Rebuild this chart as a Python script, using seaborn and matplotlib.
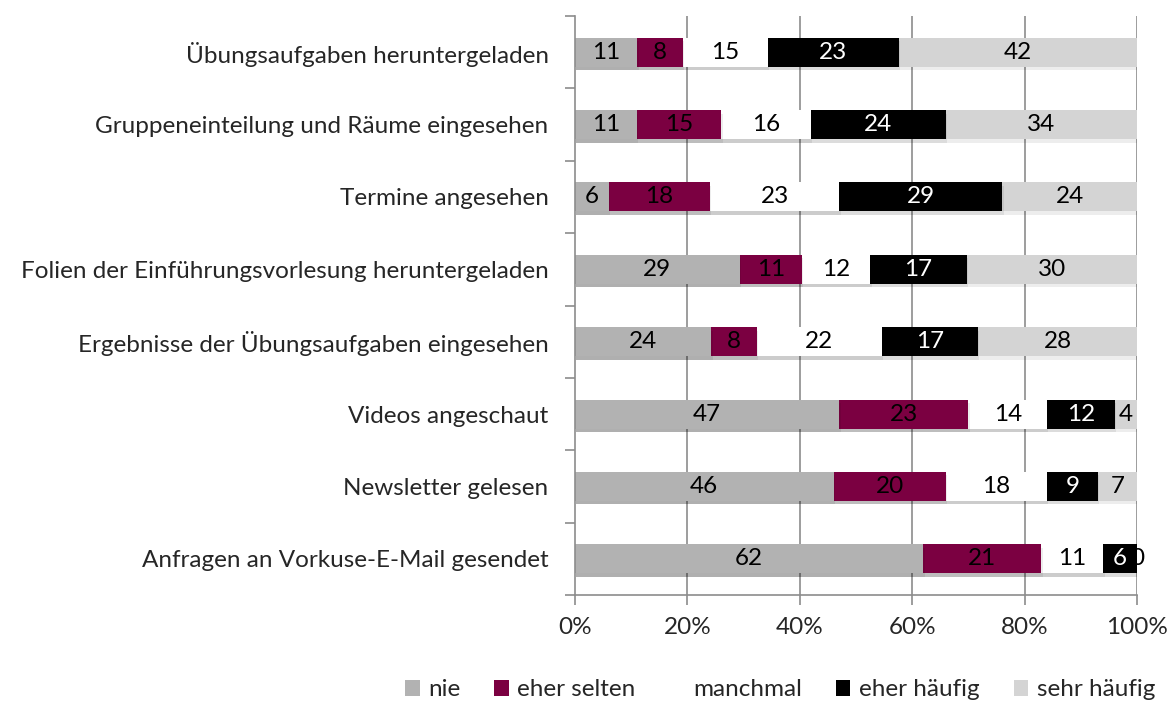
import numpy as np
import pandas as pd
import matplotlib
matplotlib.use("Agg")
import matplotlib.pyplot as plt
import matplotlib.patheffects as pe
from matplotlib.patches import Patch
import seaborn as sns

categories = [
    "Übungsaufgaben heruntergeladen",
    "Gruppeneinteilung und Räume eingesehen",
    "Termine angesehen",
    "Folien der Einführungsvorlesung heruntergeladen",
    "Ergebnisse der Übungsaufgaben eingesehen",
    "Videos angeschaut",
    "Newsletter gelesen",
    "Anfragen an Vorkuse-E-Mail gesendet",
]
series_names = ["nie", "eher selten", "manchmal", "eher häufig", "sehr häufig"]
nie = [11, 11, 6, 29, 24, 47, 46, 62]
eher_selten = [8, 15, 18, 11, 8, 23, 20, 21]
manchmal = [15, 16, 23, 12, 22, 14, 18, 11]
eher_haeufig = [23, 24, 29, 17, 17, 12, 9, 6]
sehr_haeufig = [42, 34, 24, 30, 28, 4, 7, 0]
tick_labels = ["0%", "20%", "40%", "60%", "80%", "100%"]

colors = ["#B2B2B2", "#7B0041", "#FFFFFF", "#000000", "#D4D4D4"]
text_colors = ["black", "black", "black", "white", "black"]

sns.set_style("white")
plt.rcParams["font.family"] = ["Lato", "DejaVu Sans"]
FS = 17.5

vals = np.array([nie, eher_selten, manchmal, eher_haeufig, sehr_haeufig], dtype=float)
pct = vals / vals.sum(axis=0) * 100
cum = np.cumsum(pct, axis=0)

fig = plt.figure(figsize=(11.68, 7.04), dpi=100)
ax = fig.add_axes([575 / 1168, 1 - 595 / 704, 562 / 1168, 579 / 704])

grid_c = "#8C8C8C"
for x in [20, 40, 60, 80, 100]:
    ax.axvline(x, color=grid_c, lw=1.2, zorder=0)

shadow = [pe.SimplePatchShadow(offset=(1, -2.5), shadow_rgbFace="#000000", alpha=0.07), pe.Normal()]

for i in reversed(range(5)):
    df = pd.DataFrame({"cat": categories, "val": cum[i]})
    sns.barplot(data=df, y="cat", x="val", orient="h", color=colors[i],
                saturation=1, width=0.4, ax=ax, linewidth=0, zorder=2)

for p in ax.patches:
    p.set_path_effects(shadow)

for j in range(len(categories)):
    left = 0.0
    for i in range(5):
        w = pct[i, j]
        center = left + w / 2
        z = 1.5 if vals[i, j] == 0 else 4
        ax.text(center, j, f"{int(vals[i, j])}", ha="center", va="center",
                fontsize=FS, color=text_colors[i], zorder=z)
        left += w

ax.set_xlim(0, 100)
ax.set_ylim(7.5, -0.5)
ax.set_xticks([0, 20, 40, 60, 80, 100])
ax.set_xticklabels(tick_labels, fontsize=FS)
ax.set_yticks(np.arange(-0.5, 8, 1), minor=False)
ax.set_yticklabels([])
ax.set_yticks(np.arange(8), minor=True)
ax.set_yticklabels(categories, minor=True, fontsize=FS)
ax.tick_params(axis="y", which="minor", length=0, pad=19)
ax.tick_params(axis="y", which="major", length=7, width=1.2, color=grid_c, direction="out", left=True)
ax.tick_params(axis="x", length=7, width=1.2, color=grid_c, direction="out", bottom=True, pad=9)
ax.set_xlabel("")
ax.set_ylabel("")
for s in ["top", "right"]:
    ax.spines[s].set_visible(False)
for s in ["left", "bottom"]:
    ax.spines[s].set_color(grid_c)
    ax.spines[s].set_linewidth(1.2)

handles = [Patch(facecolor=c, edgecolor="none") for c in colors]
fig.legend(handles, series_names, loc="center", bbox_to_anchor=(780 / 1168, 1 - 690 / 704),
           ncol=5, frameon=False, fontsize=FS, handlelength=0.6, handleheight=0.6,
           handletextpad=0.35, columnspacing=1.4)

fig.savefig("out.png", dpi=100)
